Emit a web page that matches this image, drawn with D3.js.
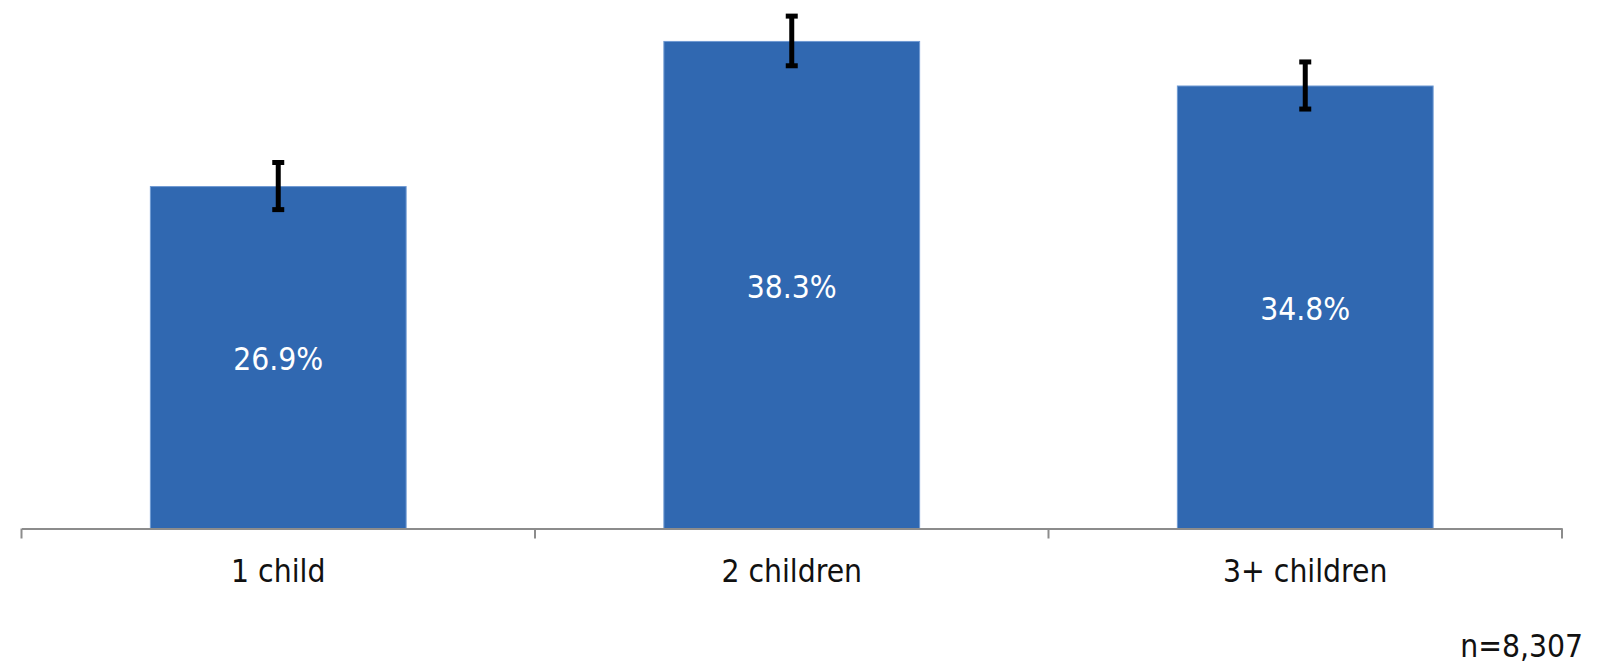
<!DOCTYPE html>
<html>
<head>
<meta charset="utf-8">
<script src="https://cdn.jsdelivr.net/npm/d3@7"></script>
<style>
  html, body { margin: 0; padding: 0; background: #ffffff; }
  svg { display: block; }
  text { font-family: "DejaVu Sans Condensed", "DejaVu Sans", sans-serif; font-stretch: condensed; }
</style>
</head>
<body>
<svg id="chart" width="1601" height="670"></svg>
<script>
const categories = ["1 child", "2 children", "3+ children"];
const values = [26.9, 38.3, 34.8];
const errors = [1.85, 1.95, 1.85];
const valueLabels = ["26.9%", "38.3%", "34.8%"];
const note = "n=8,307";

const svg = d3.select("#chart");
const baseY = 528.5;
const FS = 31.5;

const x = d3.scaleBand()
  .domain(categories)
  .range([21.5, 1562])
  .paddingInner(0.5)
  .paddingOuter(0.25);

const y = d3.scaleLinear()
  .domain([0, 40])
  .range([baseY, baseY - 509.2]);

const data = categories.map((c, i) => ({ c, v: values[i], e: errors[i], lab: valueLabels[i] }));

// bars
svg.append("g").selectAll("rect")
  .data(data).join("rect")
  .attr("x", d => x(d.c) + 0.5)
  .attr("y", d => y(d.v) + 0.5)
  .attr("width", x.bandwidth() - 1)
  .attr("height", d => baseY - y(d.v) - 0.5)
  .attr("fill", "#3068b1")
  .attr("stroke", "#6f9ad3")
  .attr("stroke-width", 1);

// value labels
svg.append("g").selectAll("text")
  .data(data).join("text")
  .attr("x", d => x(d.c) + x.bandwidth() / 2)
  .attr("y", d => (y(d.v) + baseY) / 2 + 13)
  .attr("text-anchor", "middle")
  .attr("fill", "#ffffff")
  .attr("font-size", FS)
  .text(d => d.lab);

// error bars
const eg = svg.append("g").attr("stroke", "#000000");
data.forEach(d => {
  const cx = x(d.c) + x.bandwidth() / 2;
  eg.append("line")
    .attr("x1", cx).attr("x2", cx)
    .attr("y1", y(d.v + d.e)).attr("y2", y(d.v - d.e))
    .attr("stroke-width", 5);
  [d.v + d.e, d.v - d.e].forEach(v => {
    eg.append("line")
      .attr("x1", cx - 6).attr("x2", cx + 6)
      .attr("y1", y(v)).attr("y2", y(v))
      .attr("stroke-width", 5);
  });
});

// x axis
const axis = d3.axisBottom(x).tickSize(0).tickPadding(0);
const ag = svg.append("g").attr("transform", `translate(0,${baseY})`).call(axis);
ag.select(".domain").attr("stroke", "#8c8c8c").attr("stroke-width", 2);
ag.selectAll(".tick text")
  .attr("y", 53)
  .attr("dy", 0)
  .attr("font-size", FS)
  .attr("fill", "#111111")
  .style("font-family", "'DejaVu Sans Condensed', 'DejaVu Sans', sans-serif");

// category boundary ticks
const r0 = x.range()[0];
const boundsPos = d3.range(categories.length + 1).map(i => i === categories.length ? x.range()[1] : r0 + i * x.step());
svg.append("g").selectAll("line")
  .data(boundsPos).join("line")
  .attr("x1", d => d).attr("x2", d => d)
  .attr("y1", baseY).attr("y2", baseY + 10)
  .attr("stroke", "#8c8c8c")
  .attr("stroke-width", 2);

// note
svg.append("text")
  .attr("x", 1583)
  .attr("y", 657)
  .attr("text-anchor", "end")
  .attr("font-size", FS)
  .attr("fill", "#111111")
  .text(note);
</script>
</body>
</html>
